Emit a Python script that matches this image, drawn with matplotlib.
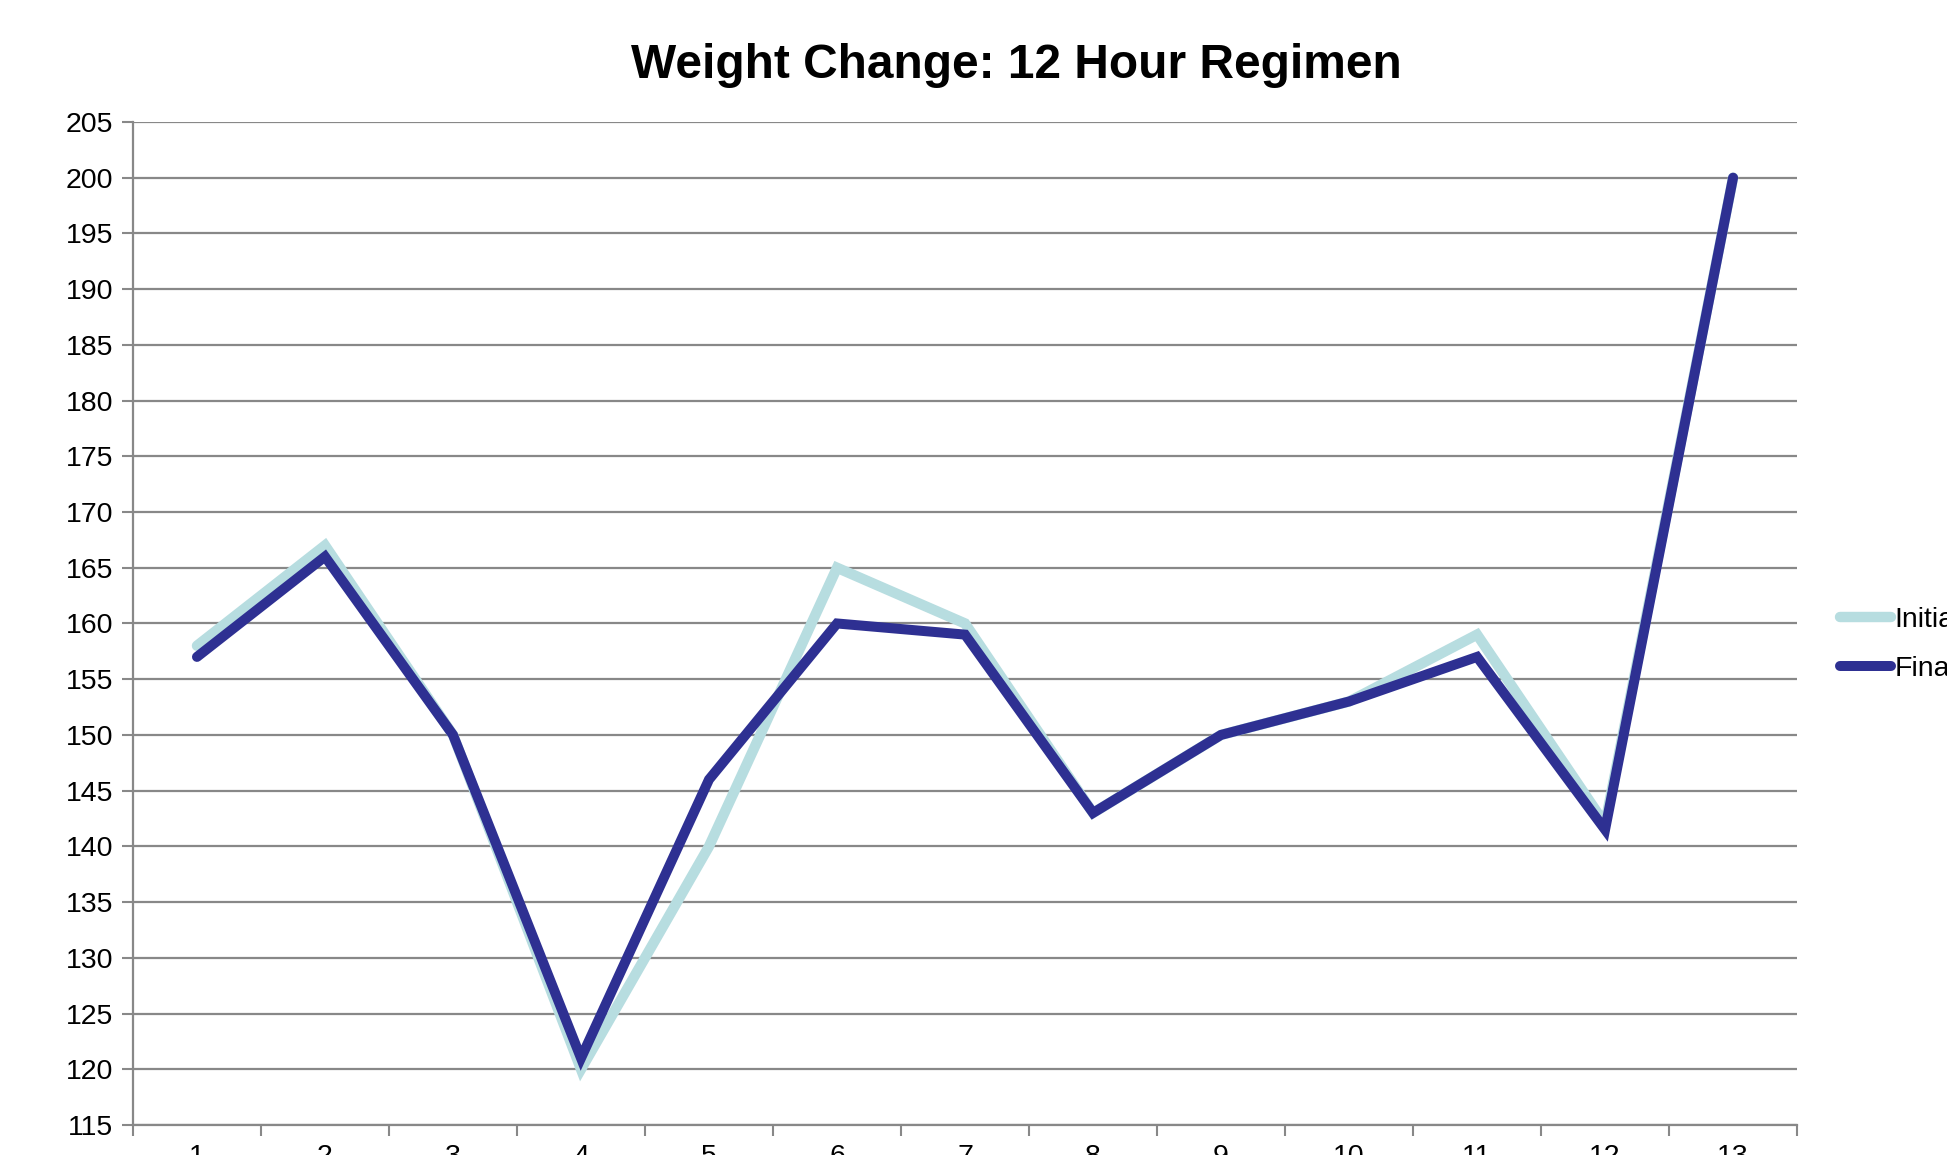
import numpy as np
import matplotlib.pyplot as plt
from matplotlib.ticker import MultipleLocator, FixedLocator

plt.rcParams['font.family'] = ['Liberation Sans', 'DejaVu Sans']

days = np.arange(1, 14)
initial = [158, 167, 150, 120, 140, 165, 160, 143, 150, 153, 159, 142, 200]
final = [157, 166, 150, 121, 146, 160, 159, 143, 150, 153, 157, 141.5, 200]

fig = plt.figure(figsize=(19.47, 11.55), dpi=100)
ax = fig.add_axes([0.0683, 0.026, 0.8547, 0.8684])

ax.plot(days, initial, color='#B7DDE0', lw=7.5, solid_capstyle='round',
        solid_joinstyle='miter', label='Initial', zorder=3)
ax.plot(days, final, color='#2E3092', lw=7.2, solid_capstyle='round',
        solid_joinstyle='miter', label='Final', zorder=4)

ax.set_xlim(0.5, 13.5)
ax.set_ylim(115, 205)
ax.yaxis.set_major_locator(MultipleLocator(5))
ax.xaxis.set_major_locator(FixedLocator(days))
ax.xaxis.set_minor_locator(FixedLocator(np.arange(0.5, 14, 1)))
ax.tick_params(axis='x', which='major', length=0, labelsize=20.5, pad=14)
ax.tick_params(axis='x', which='minor', length=8, width=1.5, color='#888888')
ax.tick_params(axis='y', length=8, width=1.5, color='#888888', labelsize=20.5, pad=6)
ax.grid(axis='y', color='#888888', lw=1.6)
ax.set_axisbelow(True)
for s in ['top', 'right']:
    ax.spines[s].set_visible(False)
for s in ['left', 'bottom']:
    ax.spines[s].set_color('#888888')
    ax.spines[s].set_linewidth(1.6)

fig.text(0.522, 0.943, 'Weight Change: 12 Hour Regimen', ha='center', va='center',
         fontsize=34.5, fontweight='bold')

fig.legend(loc='center left', bbox_to_anchor=(0.945, 0.442), frameon=False,
           fontsize=20.5, handlelength=1.8, handletextpad=0.12, labelspacing=0.8,
           borderpad=0, borderaxespad=0)

fig.savefig('out.png', dpi=100)
